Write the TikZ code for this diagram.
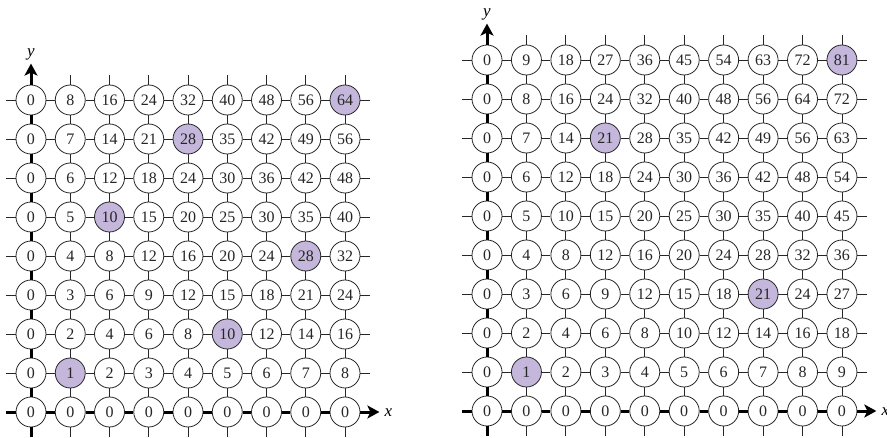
\documentclass[tikz,border=0pt]{standalone}
\usepackage{fontspec}
\setmainfont{Liberation Serif}
\usetikzlibrary{arrows.meta}
\definecolor{hl}{RGB}{196,183,219}
\expandafter\def\csname hlL-1-1\endcsname{}
\expandafter\def\csname hlL-5-2\endcsname{}
\expandafter\def\csname hlL-2-5\endcsname{}
\expandafter\def\csname hlL-7-4\endcsname{}
\expandafter\def\csname hlL-4-7\endcsname{}
\expandafter\def\csname hlL-8-8\endcsname{}
\expandafter\def\csname hlR-1-1\endcsname{}
\expandafter\def\csname hlR-7-3\endcsname{}
\expandafter\def\csname hlR-3-7\endcsname{}
\expandafter\def\csname hlR-9-9\endcsname{}
\begin{document}
\begin{tikzpicture}[x=1pt,y=1pt,
  cell/.style={circle,draw=black!85,line width=0.8pt,minimum size=30pt,inner sep=0pt,
    font=\fontsize{16}{16}\selectfont,fill=white,text=black!85},
  link/.style={line width=0.8pt,draw=black!85},
  axis/.style={line width=3pt,draw=black},
  axarrow/.style={line width=3pt,draw=black,-{Stealth[length=12pt,width=13pt,inset=3pt]}},
  lab/.style={font=\fontsize{17}{17}\selectfont\itshape,inner sep=0pt}]
\useasboundingbox (0,0) rectangle (887,437);
% ---------- grids ----------
\foreach \G/\n/\xo/\dx/\yo in {L/8/31/39.25/25, R/9/487/39.44/26}{
  \foreach \i in {0,...,\n}{
    \foreach \j in {0,...,\n}{
      \pgfmathtruncatemacro\v{\i*\j}
      \ifcsname hl\G-\i-\j\endcsname
        \tikzset{cur/.style={fill=hl}}
      \else
        \tikzset{cur/.style={}}
      \fi
      \node[cell,cur] (\G-\i-\j) at ({\xo+\dx*\i},{\yo+39*\j}) {\v};
    }
  }
  % horizontal links
  \pgfmathtruncatemacro\m{\n-1}
  \foreach \i in {0,...,\m}{
    \pgfmathtruncatemacro\ip{\i+1}
    \draw[axis] (\G-\i-0) -- (\G-\ip-0);
    \foreach \j in {1,...,\n}{
      \draw[link] (\G-\i-\j) -- (\G-\ip-\j);
    }
  }
  % vertical links
  \foreach \j in {0,...,\m}{
    \pgfmathtruncatemacro\jp{\j+1}
    \draw[axis] (\G-0-\j) -- (\G-0-\jp);
    \foreach \i in {1,...,\n}{
      \draw[link] (\G-\i-\j) -- (\G-\i-\jp);
    }
  }
  % outer stubs
  \draw[axis] (\G-0-0.west) -- ++(-10,0);
  \draw[axis] (\G-0-0.south) -- ++(0,-10);
  \foreach \j in {1,...,\n}{
    \draw[link] (\G-0-\j.west) -- ++(-10,0);
    \draw[link] (\G-\n-\j.east) -- ++(10,0);
  }
  \foreach \i in {1,...,\n}{
    \draw[link] (\G-\i-0.south) -- ++(0,-10);
    \draw[link] (\G-\i-\n.north) -- ++(0,10);
  }
  % axes
  \draw[axarrow] (\G-0-\n.north) -- ++(0,21) coordinate (\G-ytip);
  \draw[axarrow] (\G-\n-0.east) -- ++(19,0) coordinate (\G-xtip);
  \node[lab,anchor=south] (\G-ylab) at ([yshift=3pt]\G-ytip) {y};
  \node[lab,anchor=west] (\G-xlab) at ([xshift=5pt,yshift=-1pt]\G-xtip) {x};
}
\end{tikzpicture}
\end{document}
